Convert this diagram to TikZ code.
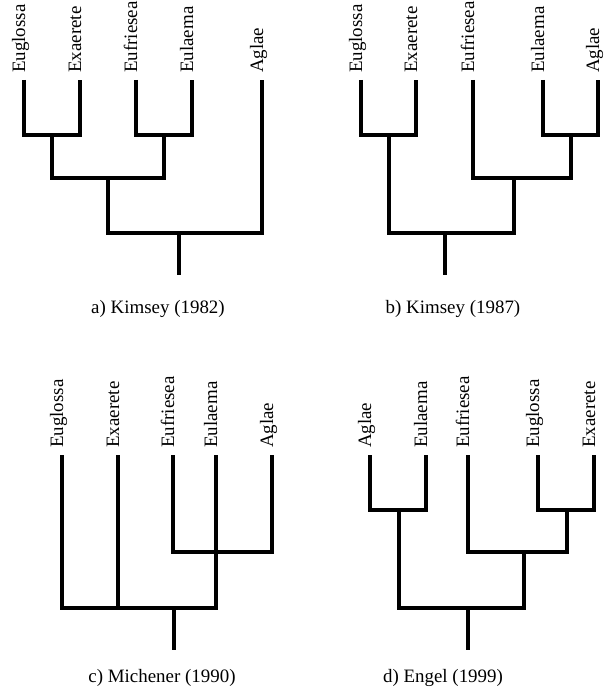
\documentclass[tikz,border=0pt]{standalone}
\usepackage{fontspec}
\setmainfont{Liberation Serif}
\begin{document}
\begin{tikzpicture}[x=1bp,y=-1bp,
        branch/.style={line width=4bp,line join=miter},
        taxon/.style={rotate=90,anchor=base west,inner sep=0pt,font=\fontsize{19}{21}\selectfont},
        caption/.style={anchor=base,inner sep=0pt,font=\fontsize{19}{21}\selectfont}]
        \useasboundingbox (0,0) rectangle (604,693);
        % a)
        \coordinate (aEug) at (24,80);  \coordinate (aExa) at (80,80);
        \coordinate (aEuf) at (136,80); \coordinate (aEul) at (192,80);
        \coordinate (aAgl) at (262,80);
        \coordinate (aN1) at (52,135);  \coordinate (aN2) at (164,135);
        \coordinate (aN3) at (108,178); \coordinate (aN4) at (179,233);
        \coordinate (aRoot) at (179,275);
        \node[taxon] (aEugLab) at ([shift={(1,-7)}]aEug) {Euglossa};
        \node[taxon] (aExaLab) at ([shift={(1,-7)}]aExa) {Exaerete};
        \node[taxon] (aEufLab) at ([shift={(1,-7)}]aEuf) {Eufriesea};
        \node[taxon] (aEulLab) at ([shift={(1,-7)}]aEul) {Eulaema};
        \node[taxon] (aAglLab) at ([shift={(1,-7)}]aAgl) {Aglae};
        \draw[branch] (aEug) |- (aN1) -| (aExa);
        \draw[branch] (aEuf) |- (aN2) -| (aEul);
        \draw[branch] (aN1) |- (aN3) -| (aN2);
        \draw[branch] (aN3) |- (aN4) -| (aAgl);
        \draw[branch] (aN4) -- (aRoot);
        \node[caption] (aCap) at (158,313) {a) Kimsey (1982)};
        % b)
        \coordinate (bEug) at (361,80); \coordinate (bExa) at (416,80);
        \coordinate (bEuf) at (473,80); \coordinate (bEul) at (543,80);
        \coordinate (bAgl) at (598,80);
        \coordinate (bN1) at (389,135); \coordinate (bN2) at (571,135);
        \coordinate (bN3) at (514,178); \coordinate (bN4) at (445,233);
        \coordinate (bRoot) at (445,275);
        \node[taxon] (bEugLab) at ([shift={(1,-7)}]bEug) {Euglossa};
        \node[taxon] (bExaLab) at ([shift={(1,-7)}]bExa) {Exaerete};
        \node[taxon] (bEufLab) at ([shift={(1,-7)}]bEuf) {Eufriesea};
        \node[taxon] (bEulLab) at ([shift={(1,-7)}]bEul) {Eulaema};
        \node[taxon] (bAglLab) at ([shift={(1,-7)}]bAgl) {Aglae};
        \draw[branch] (bEug) |- (bN1) -| (bExa);
        \draw[branch] (bEul) |- (bN2) -| (bAgl);
        \draw[branch] (bEuf) |- (bN3) -| (bN2);
        \draw[branch] (bN1) |- (bN4) -| (bN3);
        \draw[branch] (bN4) -- (bRoot);
        \node[caption] (bCap) at (453,313) {b) Kimsey (1987)};
        % c)
        \coordinate (cEug) at (62,455);  \coordinate (cExa) at (118,455);
        \coordinate (cEuf) at (173,455); \coordinate (cEul) at (216,455);
        \coordinate (cAgl) at (272,455);
        \coordinate (cN1) at (216,552); \coordinate (cN2) at (174,608);
        \coordinate (cRoot) at (174,650);
        \node[taxon] (cEugLab) at ([shift={(1,-7)}]cEug) {Euglossa};
        \node[taxon] (cExaLab) at ([shift={(1,-7)}]cExa) {Exaerete};
        \node[taxon] (cEufLab) at ([shift={(1,-7)}]cEuf) {Eufriesea};
        \node[taxon] (cEulLab) at ([shift={(1,-7)}]cEul) {Eulaema};
        \node[taxon] (cAglLab) at ([shift={(1,-7)}]cAgl) {Aglae};
        \draw[branch] (cEuf) |- (cN1) -| (cAgl);
        \draw[branch] (cEul) -- (cN1);
        \draw[branch] (cEug) |- (cN2) -| (cN1);
        \draw[branch] (cExa) -- (cExa |- cN2);
        \draw[branch] (cN2) -- (cRoot);
        \node[caption] (cCap) at (162,682) {c) Michener (1990)};
        % d)
        \coordinate (dAgl) at (370,455); \coordinate (dEul) at (426,455);
        \coordinate (dEuf) at (468,455); \coordinate (dEug) at (538,455);
        \coordinate (dExa) at (594,455);
        \coordinate (dN1) at (399,510); \coordinate (dN2) at (567,510);
        \coordinate (dN3) at (524,552); \coordinate (dN4) at (468,608);
        \coordinate (dRoot) at (468,650);
        \node[taxon] (dAglLab) at ([shift={(1,-7)}]dAgl) {Aglae};
        \node[taxon] (dEulLab) at ([shift={(1,-7)}]dEul) {Eulaema};
        \node[taxon] (dEufLab) at ([shift={(1,-7)}]dEuf) {Eufriesea};
        \node[taxon] (dEugLab) at ([shift={(1,-7)}]dEug) {Euglossa};
        \node[taxon] (dExaLab) at ([shift={(1,-7)}]dExa) {Exaerete};
        \draw[branch] (dAgl) |- (dN1) -| (dEul);
        \draw[branch] (dEug) |- (dN2) -| (dExa);
        \draw[branch] (dEuf) |- (dN3) -| (dN2);
        \draw[branch] (dN1) |- (dN4) -| (dN3);
        \draw[branch] (dN4) -- (dRoot);
        \node[caption] (dCap) at (443,682) {d) Engel (1999)};
\end{tikzpicture}
\end{document}
